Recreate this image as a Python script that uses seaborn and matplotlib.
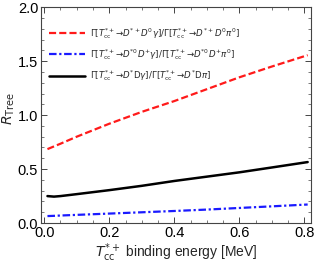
import numpy as np
import pandas as pd
import matplotlib
matplotlib.use("Agg")
import matplotlib.pyplot as plt
import seaborn as sns
from matplotlib.ticker import MultipleLocator

# ---- data ----
binding = [0.01, 0.03, 0.05, 0.10, 0.20, 0.30, 0.40, 0.50, 0.60, 0.70, 0.81]
r_charged = [0.685, 0.71, 0.735, 0.80, 0.92, 1.03, 1.13, 1.24, 1.35, 1.45, 1.555]
r_neutral = [0.065, 0.067, 0.070, 0.076, 0.088, 0.100, 0.112, 0.125, 0.140, 0.155, 0.172]
r_total = [0.250, 0.245, 0.250, 0.268, 0.305, 0.345, 0.390, 0.430, 0.470, 0.515, 0.565]

labels = [
    r"$\Gamma[T_{\rm cc}^{*+}\!\rightarrow\! D^{*+}D^{0}\gamma]/\Gamma[T_{\rm cc}^{*+}\!\rightarrow\! D^{*+}D^{0}\pi^{0}]$",
    r"$\Gamma[T_{\rm cc}^{*+}\!\rightarrow\! D^{*0}D^{+}\gamma]/\Gamma[T_{\rm cc}^{*+}\!\rightarrow\! D^{*0}D^{+}\pi^{0}]$",
    r"$\Gamma[T_{\rm cc}^{*+}\!\rightarrow\! D^{*}{\rm D}\gamma]/\Gamma[T_{\rm cc}^{*+}\!\rightarrow\! D^{*}{\rm D}\pi]$",
]
colors = ["#ff1a1a", "#1a1aff", "#000000"]

df = pd.concat([
    pd.DataFrame({"E": binding, "R": r_charged, "series": labels[0]}),
    pd.DataFrame({"E": binding, "R": r_neutral, "series": labels[1]}),
    pd.DataFrame({"E": binding, "R": r_total, "series": labels[2]}),
])

sns.set_theme(style="ticks")
plt.rcParams["font.family"] = ["Liberation Sans", "DejaVu Sans"]
plt.rcParams["mathtext.fontset"] = "dejavusans"

fig = plt.figure(figsize=(3.15, 2.64), dpi=100)
ax = fig.add_axes([0.130, 0.155, 0.857, 0.818])

dashes = {labels[0]: (3.2, 1.4), labels[1]: (3.4, 1.2, 1.0, 1.2), labels[2]: ""}
widths = {labels[0]: 1.6, labels[1]: 1.6, labels[2]: 1.8}
sns.lineplot(data=df, x="E", y="R", hue="series", style="series",
             palette=dict(zip(labels, colors)), dashes=dashes,
             hue_order=labels, style_order=labels, ax=ax, legend=True)
for line, lab in zip(ax.get_lines(), labels):
    line.set_linewidth(widths[lab])

ax.set_xlim(-0.01, 0.82)
ax.set_ylim(0, 2.0)
ax.xaxis.set_major_locator(MultipleLocator(0.2))
ax.xaxis.set_minor_locator(MultipleLocator(0.05))
ax.yaxis.set_major_locator(MultipleLocator(0.5))
ax.yaxis.set_minor_locator(MultipleLocator(0.1))
ax.xaxis.set_major_formatter(matplotlib.ticker.FormatStrFormatter("%.1f"))
ax.yaxis.set_major_formatter(matplotlib.ticker.FormatStrFormatter("%.1f"))
ax.tick_params(which="both", direction="in", top=True, right=True,
               colors="#444444", labelcolor="black", labelsize=10.5, pad=2)
ax.tick_params(which="major", length=4, width=0.7)
ax.tick_params(which="minor", length=2, width=0.5)
for s in ax.spines.values():
    s.set_color("#444444")
    s.set_linewidth(0.8)

ax.set_xlabel(r"$T_{\rm cc}^{*+}$ binding energy [MeV]", fontsize=10, labelpad=1)
ax.set_ylabel(r"$R_{\rm Tree}$", fontsize=10)
ax.yaxis.set_label_coords(-0.09, 0.53)

leg = ax.legend(loc="upper left", frameon=False, fontsize=6.2,
                handlelength=4.2, handletextpad=0.6, labelspacing=0.75,
                bbox_to_anchor=(0.0, 0.95), borderaxespad=0.5)
for h, lab in zip(leg.get_lines(), labels):
    h.set_linewidth(widths[lab])

fig.savefig("out.png", dpi=100)
